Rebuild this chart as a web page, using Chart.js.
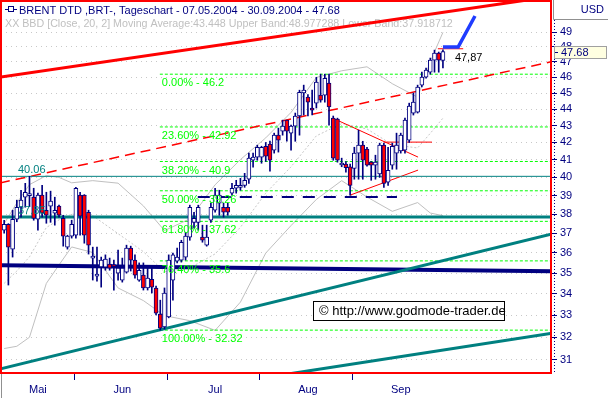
<!DOCTYPE html>
<html>
<head>
<meta charset="utf-8">
<script src="https://cdn.jsdelivr.net/npm/chart.js@4.4.1/dist/chart.umd.min.js"></script>
<style>
  html, body { margin: 0; padding: 0; background: #fff; }
  #wrap { width: 608px; height: 398px; }
</style>
</head>
<body>
<div id="wrap"><canvas id="chart" width="608" height="398"></canvas></div>
<script>
// Brent DTD Tageschart 07.05.2004 - 30.09.2004 (one entry per trading day)
const candleOpen = [37.16,37.47,36.19,37.73,38.37,38.91,39.00,38.91,37.73,39.02,38.21,38.43,38.05,38.43,37.78,36.29,36.85,36.90,39.02,39.02,38.10,35.74,34.85,35.30,35.29,35.44,35.36,35.00,34.66,35.04,36.24,35.64,34.66,34.90,34.28,34.70,34.28,33.05,32.46,32.92,34.66,35.59,35.64,35.79,36.80,37.57,37.57,36.80,36.39,37.68,38.21,38.59,38.37,38.37,39.13,39.40,39.45,39.56,39.90,40.97,41.15,41.15,41.78,41.90,41.55,42.43,42.67,43.33,42.55,42.97,43.58,45.00,44.74,44.07,44.37,44.87,44.87,45.63,43.45,43.39,40.70,40.75,40.60,40.50,41.38,41.84,41.61,40.86,40.69,40.20,41.84,39.73,40.69,41.38,41.50,41.55,42.13,43.76,43.82,45.50,46.01,46.33,47.12,47.58,47.10];
const candleHigh = [37.68,37.50,38.21,38.75,39.29,39.67,40.06,39.40,39.13,39.56,39.18,39.24,38.91,38.48,37.94,36.90,37.68,39.45,39.18,39.05,38.21,36.29,36.29,35.79,35.90,35.74,35.64,36.14,35.74,36.39,36.34,35.90,35.50,35.50,35.30,35.24,34.37,33.70,34.28,35.90,35.99,36.24,36.64,37.05,38.48,38.10,38.48,37.42,37.42,38.59,39.40,39.29,38.59,38.59,39.67,39.84,39.95,40.23,41.38,41.38,41.84,41.78,42.00,42.08,42.55,42.85,43.33,43.33,43.03,43.76,45.18,45.50,44.90,45.18,46.00,46.20,46.20,46.20,43.58,43.45,41.09,40.90,40.75,41.72,42.73,42.07,41.72,40.90,41.26,41.96,41.96,41.72,41.96,42.55,42.55,43.45,44.37,45.00,45.50,46.33,46.59,47.25,47.78,47.65,47.80];
const candleLow = [37.00,34.42,35.79,37.60,37.84,38.37,38.40,37.68,37.16,37.84,37.52,37.57,37.42,37.84,36.34,36.19,36.75,36.75,36.90,36.49,35.94,34.66,34.61,34.32,35.14,35.14,34.18,34.66,34.56,35.00,35.10,34.75,34.60,34.18,34.18,34.04,33.01,32.32,32.37,32.88,33.70,35.50,35.54,35.64,36.64,37.26,37.16,36.54,36.34,37.57,38.10,37.94,37.84,37.94,39.02,39.13,39.29,39.45,39.67,40.57,40.97,40.80,40.90,40.35,41.38,41.44,42.43,42.07,41.55,42.07,42.43,43.64,43.58,43.64,44.07,44.43,44.43,43.03,40.97,40.86,40.60,40.30,39.02,39.90,39.90,39.90,40.63,39.84,39.90,40.00,39.45,39.56,40.46,40.46,41.38,41.38,42.00,43.64,43.76,45.38,45.94,46.20,46.33,46.33,46.60];
const candleClose = [37.47,36.29,37.73,38.37,38.75,39.18,39.05,37.78,39.02,38.05,37.94,38.70,38.21,37.94,36.85,36.85,37.47,39.40,37.89,36.90,36.39,35.84,34.95,35.64,35.69,35.24,35.32,35.24,35.24,36.24,35.64,34.90,35.14,34.28,34.75,34.32,33.10,32.41,34.04,35.64,35.90,35.79,36.54,36.85,38.37,37.78,38.37,36.64,36.80,38.37,39.02,39.02,38.10,38.10,39.40,39.56,39.56,39.84,41.10,41.15,41.72,41.72,41.20,40.97,42.43,42.13,42.97,42.67,42.97,43.58,45.05,45.18,44.43,43.94,45.70,44.56,45.94,44.13,41.09,40.97,40.75,40.55,39.56,41.38,41.84,40.97,40.69,40.69,40.86,41.84,39.67,40.40,41.78,41.84,42.43,43.33,44.19,44.43,45.38,46.01,46.46,47.12,47.58,47.12,47.68];

// Bollinger bands [Close, 20, 2], read at some days
const bandDay = [0, 3, 6, 10, 13, 16, 21, 27, 33, 38, 44, 50, 56, 62, 68, 74, 80, 86, 92, 98, 101, 104];
const bandUpper = [37.5, 38.6, 39.6, 40.1, 40.0, 39.7, 39.82, 39.68, 38.44, 37.14, 37.75, 39.59, 41.01, 42.27, 43.8, 45.99, 46.42, 46.68, 45.59, 44.74, 47.02, 48.98];
const bandMiddle = [34.5, 35.1, 35.8, 37.3, 37.7, 38.0, 37.92, 36.98, 36.06, 35.06, 35.25, 35.95, 37.31, 39.13, 40.6, 42.39, 43.12, 42.8, 41.87, 41.68, 42.54, 43.45];
const bandLower = [31.5, 31.6, 32.0, 34.5, 35.4, 36.3, 36.02, 34.28, 33.68, 32.98, 32.75, 32.31, 33.61, 35.99, 37.4, 38.79, 39.82, 38.92, 38.15, 38.62, 38.06, 37.92];

// Fibonacci retracement
const fibPct = ['0.00%', '23.60%', '38.20%', '50.00%', '61.80%', '76.40%', '100.00%'];
const fibLevels = [46.2, 42.92, 40.9, 39.26, 37.62, 35.6, 32.32];
const fibFromDay = 36.9;

// horizontal marks
const levelHigh = 40.06;
const levelSupport = 37.85;
const dashedSupport = 38.92;
const dashedSupportDays = [45.9, 93.1];
const triangleTop = 42.02;
const triangleTopDays = [90.0, 101.4];
const resistance = 47.87;
const resistanceDays = [102.8, 108.8];

// trend lines [day, value]
const redChannelTop = [[-1, 46.01], [129.85, 51.5]];
const redChannelMid = [[-1, 39.69], [129.85, 47.02]];
const tealRiseUpper = [[-1, 30.61], [129.85, 36.96]];
const tealRiseLower = [[67.3, 30.4], [129.85, 32.18]];
const navySupport = [[-1, 35.39], [129.85, 35.09]];
const triangleFall = [[78.4, 43.39], [98.1, 41.15]];
const triangleRise = [[81.97, 39.02], [98.1, 40.41]];
const forecastArrow = [[104.0, 47.98], [107.6, 47.98], [111.6, 50.11]];

// axes
const yTicks = [31, 32, 33, 34, 35, 36, 37, 38, 39, 40, 41, 42, 43, 44, 45, 46, 47, 48, 49];
const monthLabels = ['Mai', 'Jun', 'Jul', 'Aug', 'Sep'];
const monthLabelDay = [8, 28, 50, 72, 94];
const monthStartDay = [17, 39, 61, 83];
const lastPrice = 47.68;

const NAVY = '#000080';
const FONT = '"Liberation Sans", Arial, sans-serif';
const xMin = -0.75, xMax = 129.85;
const lineEnd = xMax;

Chart.defaults.font.family = FONT;
Chart.defaults.font.size = 11;

const pts = arr => arr.map(([x, y]) => ({ x, y }));
const hline = (v, a, b) => [{ x: a, y: v }, { x: b, y: v }];

function lineSet(data, color, width, dash, order) {
    return {
        type: 'line', data, borderColor: color, borderWidth: width,
        borderDash: dash || [], pointRadius: 0, fill: false, tension: 0,
        clip: 0, order: order
    };
}

const wickData = candleClose.map((c, i) => ({ x: i, y: [candleLow[i], candleHigh[i]] }));
const bodyData = candleClose.map((c, i) => ({ x: i, y: [Math.min(candleOpen[i], c), Math.max(candleOpen[i], c)] }));
const bodyColors = candleClose.map((c, i) => c >= candleOpen[i] ? '#ffffff' : '#ff0000');

const datasets = [
    lineSet(bandDay.map((d, k) => ({ x: d, y: bandUpper[k] })), '#c0c0c0', 1, [], 30),
    lineSet(bandDay.map((d, k) => ({ x: d, y: bandMiddle[k] })), '#c8c8c8', 1, [2, 2], 30),
    lineSet(bandDay.map((d, k) => ({ x: d, y: bandLower[k] })), '#c0c0c0', 1, [], 30),
    ...fibLevels.map(v => lineSet(hline(v, fibFromDay, lineEnd), '#00ff00', 1, [3, 2], 20)),
    lineSet(hline(levelHigh, xMin, lineEnd), '#008080', 1, [], 18),
    lineSet(hline(levelSupport, xMin, lineEnd), '#008080', 3, [], 18),
    lineSet(pts(tealRiseUpper), '#008080', 3, [], 18),
    lineSet(pts(tealRiseLower), '#008080', 3, [], 18),
    lineSet(pts(redChannelTop), '#ff0000', 3, [], 18),
    lineSet(pts(redChannelMid), '#ff0000', 1.5, [10, 6], 18),
    lineSet(pts(navySupport), NAVY, 4, [], 18),
    lineSet(hline(dashedSupport, dashedSupportDays[0], dashedSupportDays[1]), NAVY, 2, [12, 9], 18),
    lineSet(pts(triangleFall), '#ff0000', 1, [], 18),
    lineSet(pts(triangleRise), '#ff0000', 1, [], 18),
    lineSet(hline(triangleTop, triangleTopDays[0], triangleTopDays[1]), '#ff0000', 1, [], 18),
    lineSet(hline(resistance, resistanceDays[0], resistanceDays[1]), '#ff0000', 1, [], 18),
    lineSet(pts(forecastArrow), '#1f3cff', 3.5, [], 3),
    {
        type: 'bar', data: wickData, backgroundColor: NAVY, barThickness: 1,
        grouped: false, order: 2, clip: 0, minBarLength: 1
    },
    {
        type: 'bar', data: bodyData, backgroundColor: bodyColors, borderColor: NAVY,
        borderWidth: 1, borderSkipped: false, barThickness: 4, grouped: false,
        order: 1, clip: 0, minBarLength: 2
    }
];

const overlay = {
    id: 'overlay',
    beforeDraw(chart) {
        const ctx = chart.ctx;
        ctx.save();
        ctx.fillStyle = '#ffffff';
        ctx.fillRect(0, 0, chart.width, chart.height);
        ctx.restore();
    },
    beforeDatasetsDraw(chart) {
        const ctx = chart.ctx;
        ctx.save();
        // Titelzeile
        ctx.strokeStyle = NAVY;
        ctx.lineWidth = 1;
        ctx.strokeRect(8.5, 6.5, 5, 5);
        ctx.beginPath();
        ctx.moveTo(5, 9.5); ctx.lineTo(8, 9.5);
        ctx.moveTo(14, 9.5); ctx.lineTo(17, 9.5);
        ctx.stroke();
        ctx.font = '11px ' + FONT;
        ctx.textBaseline = 'alphabetic';
        ctx.fillStyle = NAVY;
        ctx.fillText('BRENT DTD ,BRT-, Tageschart - 07.05.2004 - 30.09.2004 - ' + lastPrice.toFixed(2), 19, 14);
        ctx.fillStyle = '#c0c0c0';
        ctx.font = '10.7px ' + FONT;
        ctx.fillText('XX BBD [Close, 20, 2] Moving Average:43.448 Upper Band:48.977288 Lower Band:37.918712', 5, 27);
        ctx.restore();
    },
    afterDatasetsDraw(chart) {
        const { ctx, scales: { x, y } } = chart;
        ctx.save();
        ctx.font = '11px ' + FONT;
        ctx.textBaseline = 'middle';
        ctx.fillStyle = '#00ff00';
        fibLevels.forEach((v, k) => {
            ctx.fillText(fibPct[k] + ' - ' + v, x.getPixelForValue(fibFromDay) + 2, y.getPixelForValue(v) + 9);
        });
        ctx.fillStyle = '#008080';
        ctx.fillText(levelHigh.toFixed(2), 18, y.getPixelForValue(levelHigh) - 6);
        ctx.fillText(levelSupport.toFixed(2), 18, y.getPixelForValue(levelSupport) - 6);
        ctx.fillStyle = '#000000';
        ctx.fillText(String(resistance).replace('.', ','), x.getPixelForValue(resistanceDays[0]) + 17, y.getPixelForValue(resistance) + 9);

        // copyright box
        ctx.fillStyle = '#ffffff';
        ctx.fillRect(313.5, 301.5, 191, 19);
        ctx.strokeStyle = '#000000';
        ctx.lineWidth = 1;
        ctx.strokeRect(313.5, 301.5, 191, 19);
        ctx.fillStyle = '#000000';
        ctx.font = '13px ' + FONT;
        ctx.fillText('\u00a9 http://www.godmode-trader.de', 319, 311.5);
        ctx.restore();
    },
    afterDraw(chart) {
        const { ctx, chartArea: a, scales: { x, y } } = chart;
        ctx.save();
        // Rahmen
        ctx.strokeStyle = '#ff0000';
        ctx.lineWidth = 2;
        ctx.strokeRect(a.left, a.top, a.right - a.left - 1, a.bottom - a.top - 1);

        // Monatsgrenzen
        ctx.strokeStyle = NAVY;
        ctx.lineWidth = 1;
        ctx.beginPath();
        monthStartDay.forEach(d => {
            const px = Math.round(x.getPixelForValue(d - 0.5)) + 0.5;
            ctx.moveTo(px, a.bottom); ctx.lineTo(px, a.bottom + 6);
        });
        ctx.stroke();
        ctx.strokeStyle = '#909090';
        ctx.beginPath();
        ctx.moveTo(1.5, a.bottom); ctx.lineTo(1.5, 398);
        ctx.stroke();

        // Preisachse
        ctx.strokeStyle = NAVY;
        ctx.setLineDash([1, 2]);
        ctx.beginPath();
        ctx.moveTo(a.right + 2.5, 20); ctx.lineTo(a.right + 2.5, a.bottom);
        ctx.stroke();
        ctx.setLineDash([]);

        // USD box
        ctx.strokeStyle = '#909090';
        ctx.beginPath();
        ctx.moveTo(a.right + 1.5, 0); ctx.lineTo(a.right + 1.5, 19.5); ctx.lineTo(608, 19.5);
        ctx.stroke();
        ctx.font = '11px ' + FONT;
        ctx.fillStyle = NAVY;
        ctx.textAlign = 'right';
        ctx.textBaseline = 'middle';
        ctx.fillText('USD', 604, 10);

        // letzter Kurs
        const py = Math.round(y.getPixelForValue(lastPrice));
        ctx.fillStyle = '#ffffe1';
        ctx.fillRect(a.right + 2, py - 6, 53, 13);
        ctx.strokeStyle = '#a0a0a0';
        ctx.strokeRect(a.right + 2.5, py - 5.5, 52, 12);
        ctx.fillStyle = NAVY;
        ctx.textAlign = 'left';
        ctx.fillText('47.68', a.right + 9, py + 0.5);
        ctx.beginPath();
        ctx.strokeStyle = NAVY;
        ctx.moveTo(a.right + 3, py + 0.5); ctx.lineTo(a.right + 6, py + 0.5);
        ctx.stroke();
        ctx.restore();
    }
};

new Chart(document.getElementById('chart'), {
    type: 'bar',
    data: { datasets },
    options: {
        responsive: false,
        animation: false,
        devicePixelRatio: 1,
        layout: { padding: { left: 1, top: 1, right: 0, bottom: 0 } },
        plugins: { legend: { display: false }, tooltip: { enabled: false } },
        scales: {
            x: {
                type: 'linear', min: xMin, max: xMax, offset: false, bounds: 'data',
                grid: { display: false, drawTicks: false },
                border: { display: false },
                afterBuildTicks: s => { s.ticks = monthLabelDay.map(v => ({ value: v })); },
                ticks: {
                    autoSkip: false, maxRotation: 0, padding: 9, color: NAVY,
                    callback: (v, i) => monthLabels[i]
                },
                afterFit: s => { s.height = 24; s.paddingLeft = 0; s.paddingRight = 0; }
            },
            y: {
                type: 'logarithmic', position: 'right', min: 30.4, max: 51.17, bounds: 'data',
                afterBuildTicks: s => { s.ticks = yTicks.map(v => ({ value: v })); },
                ticks: { autoSkip: false, color: NAVY, padding: 3, callback: v => String(v) },
                grid: { color: '#c8c8c8', lineWidth: 1, drawTicks: true, tickLength: 5, tickColor: NAVY, tickWidth: 1 },
                border: { display: false, dash: [1, 4] },
                afterFit: s => { s.width = 56; s.paddingTop = 0; s.paddingBottom = 0; }
            }
        }
    },
    plugins: [overlay]
});
</script>
</body>
</html>
